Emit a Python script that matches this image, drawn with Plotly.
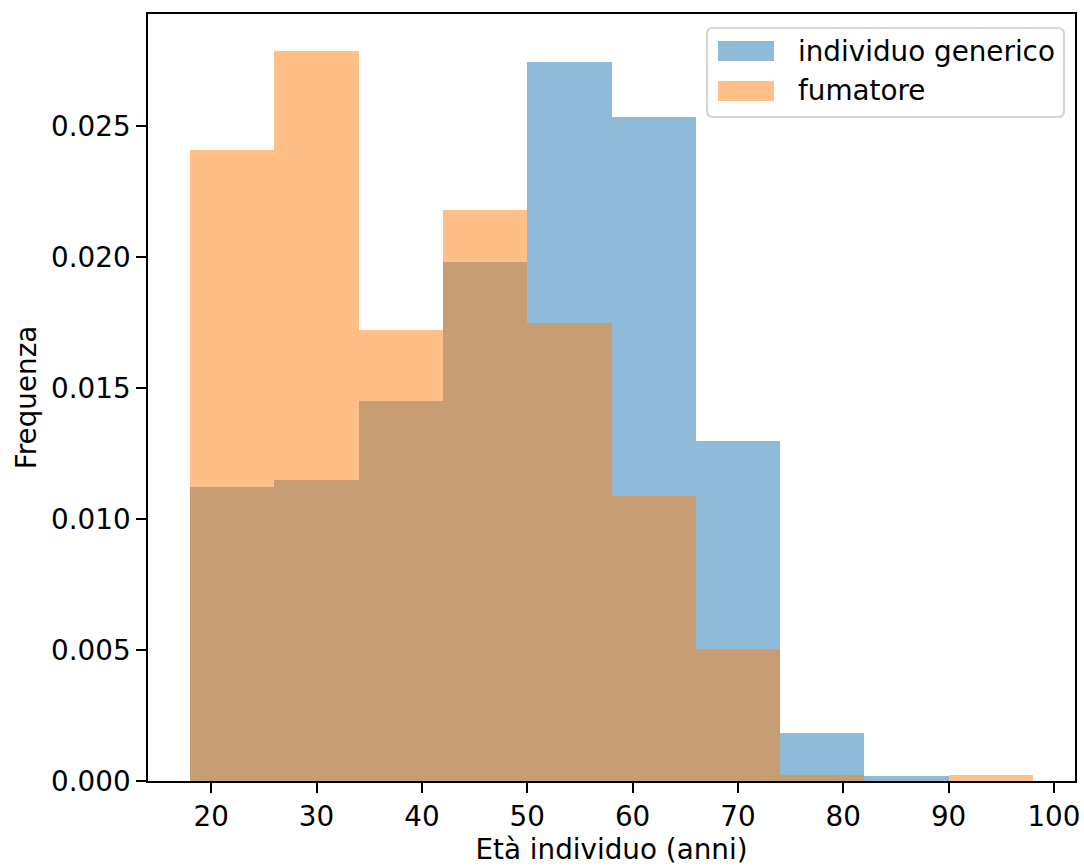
import plotly.graph_objects as go

# Histogram bins (età, anni) and normalised frequencies per bin
bin_edges = [18, 26, 34, 42, 50, 58, 66, 74, 82, 90, 98]
freq_generico = [0.01122, 0.01149, 0.01450, 0.01981, 0.02744, 0.02534,
                 0.01298, 0.00183, 0.00021, 0.0]
freq_fumatore = [0.02408, 0.02786, 0.01721, 0.02179, 0.01748, 0.01088,
                 0.00504, 0.00023, 0.0, 0.00023]

series_names = ["individuo generico", "fumatore"]
series_colors = ["rgba(31,119,180,0.5)", "rgba(255,127,14,0.5)"]

x_ticks = [20, 30, 40, 50, 60, 70, 80, 90, 100]
y_ticks = [0.000, 0.005, 0.010, 0.015, 0.020, 0.025]

centers = [(a + b) / 2 for a, b in zip(bin_edges[:-1], bin_edges[1:])]
widths = [b - a for a, b in zip(bin_edges[:-1], bin_edges[1:])]

W, H = 1084, 866
ML, MR, MT, MB = 148, 9, 14, 85
PW, PH = W - ML - MR, H - MT - MB
FONT = "DejaVu Sans"
FS = 27.8

fig = go.Figure()
for name, vals, col in zip(series_names, [freq_generico, freq_fumatore], series_colors):
    fig.add_trace(go.Bar(x=centers, y=vals, width=widths, name=name,
                         marker=dict(color=col, line=dict(width=0)),
                         showlegend=False))


def px(x):
    return (x - ML) / PW


def py(y):
    return (H - MB - y) / PH


# Legend frame with rounded corners
x0, x1, y0, y1 = px(707), px(1064), py(117), py(28)
rx, ry = 6 / PW, 6 / PH
frame = (f"M {x0+rx},{y0} L {x1-rx},{y0} Q {x1},{y0} {x1},{y0+ry} "
         f"L {x1},{y1-ry} Q {x1},{y1} {x1-rx},{y1} L {x0+rx},{y1} "
         f"Q {x0},{y1} {x0},{y1-ry} L {x0},{y0+ry} Q {x0},{y0} {x0+rx},{y0} Z")
shapes = [dict(type="path", xref="paper", yref="paper", path=frame,
               fillcolor="rgba(255,255,255,0.8)",
               line=dict(color="rgba(204,204,204,0.8)", width=2.2), layer="above")]
annotations = []
for i, (name, col) in enumerate(zip(series_names, series_colors)):
    cy = 51 + 40 * i
    shapes.append(dict(type="rect", xref="paper", yref="paper",
                       x0=px(718), x1=px(774), y0=py(cy + 10), y1=py(cy - 10),
                       fillcolor=col, line=dict(width=0), layer="above"))
    annotations.append(dict(xref="paper", yref="paper", x=px(796), y=py(cy),
                            xanchor="left", yanchor="middle", text=name,
                            showarrow=False,
                            font=dict(family=FONT, size=FS, color="black")))

axis_common = dict(showline=True, mirror=True, linecolor="black", linewidth=2.2,
                   ticks="outside", ticklen=9.7, tickwidth=2.2, tickcolor="black",
                   showgrid=False, zeroline=False, automargin=False,
                   tickfont=dict(family=FONT, size=FS, color="black"))

fig.update_layout(
    width=W, height=H,
    margin=dict(l=ML, r=MR, t=MT, b=MB),
    paper_bgcolor="white", plot_bgcolor="white",
    barmode="overlay", bargap=0,
    shapes=shapes, annotations=annotations,
    xaxis=dict(range=[14, 102], tickvals=x_ticks,
               ticktext=[str(v) for v in x_ticks],
               title=dict(text="Età individuo (anni)", standoff=8,
                          font=dict(family=FONT, size=FS, color="black")),
               **axis_common),
    yaxis=dict(range=[0, 0.02928], tickvals=y_ticks,
               ticktext=[f"{v:.3f}" for v in y_ticks],
               title=dict(text="Frequenza", standoff=6,
                          font=dict(family=FONT, size=FS, color="black")),
               **axis_common),
)

fig.write_html("out.html")
